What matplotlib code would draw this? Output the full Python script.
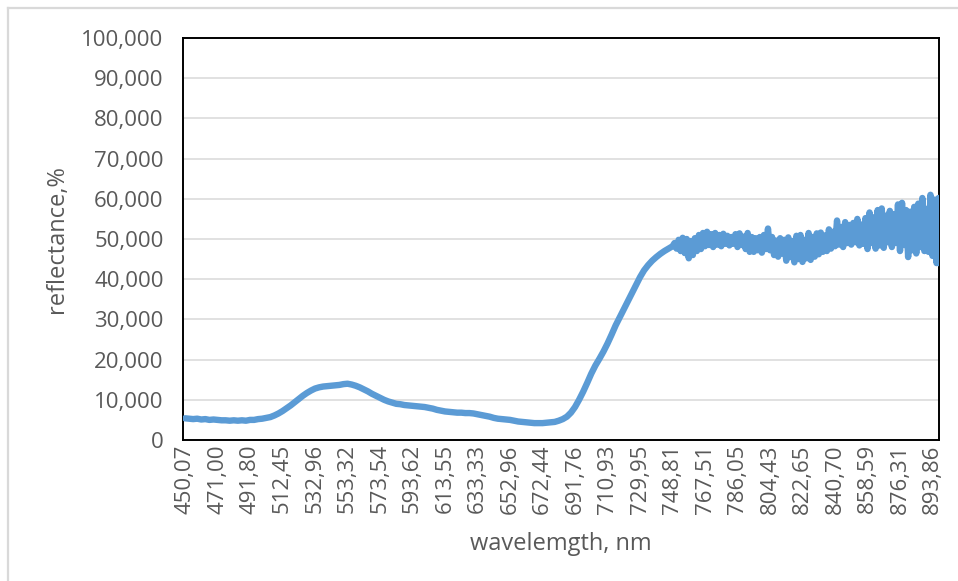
import matplotlib
matplotlib.use("Agg")
import matplotlib.pyplot as plt
from matplotlib.lines import Line2D
import numpy as np

plt.rcParams['font.family'] = ['Open Sans', 'DejaVu Sans']

# Category tick labels (wavelength, nm) shown every 8th sample
tick_labels = ["450,07", "471,00", "491,80", "512,45", "532,96", "553,32",
               "573,54", "593,62", "613,55", "633,33", "652,96", "672,44",
               "691,76", "710,93", "729,95", "748,81", "767,51", "786,05",
               "804,43", "822,65", "840,70", "858,59", "876,31", "893,86"]
samples_per_label = 8

# Reflectance (%): smooth part, one value per 1/8 label interval
reflectance_smooth = [
    5.4, 5.3, 5.2, 5.3, 5.1, 5.2, 5.0, 5.1,
    5.0, 4.9, 4.9, 4.8, 4.9, 4.8, 4.9, 4.8,
    5.0, 5.0, 5.2, 5.3, 5.5, 5.7, 6.1, 6.6,
    7.2, 7.9, 8.6, 9.4, 10.2, 11.0, 11.7, 12.3,
    12.8, 13.1, 13.3, 13.4, 13.5, 13.6, 13.7, 13.9,
    14.0, 13.8, 13.5, 13.1, 12.6, 12.1, 11.5, 11.0,
    10.5, 10.0, 9.6, 9.3, 9.0, 8.9, 8.7, 8.6,
    8.5, 8.4, 8.3, 8.2, 8.0, 7.8, 7.5, 7.3,
    7.1, 7.0, 6.9, 6.8, 6.8, 6.7, 6.7, 6.6,
    6.4, 6.2, 6.0, 5.8, 5.5, 5.3, 5.2, 5.1,
    5.0, 4.8, 4.6, 4.5, 4.4, 4.3, 4.2, 4.2,
    4.2, 4.3, 4.4, 4.5, 4.8, 5.2, 5.8, 6.8,
    8.2, 10.0, 12.0, 14.2, 16.5, 18.5, 20.2, 22.0,
    24.0, 26.2, 28.5, 30.5, 32.5, 34.5, 36.5, 38.5,
    40.5, 42.2, 43.5, 44.6, 45.5, 46.3, 47.0, 47.6,
]

# Noisy part (from 748,81 nm on), one value per 1/16 label interval
reflectance_noisy = [
    48.2, 49.0, 47.6, 49.8, 47.0, 50.3, 46.5, 50.0,
    45.2, 49.5, 46.0, 50.2, 47.0, 51.0, 47.5, 51.5,
    48.2, 51.8, 48.5, 51.2, 48.0, 51.5, 48.6, 51.0,
    48.2, 51.3, 48.8, 50.8, 48.4, 50.5, 48.8, 51.2,
    48.0, 51.4, 48.5, 50.6, 47.5, 51.5, 46.8, 50.5,
    46.8, 50.2, 47.2, 50.5, 46.6, 51.0, 47.5, 52.6,
    47.2, 50.5, 46.0, 49.6, 45.6, 50.2, 46.4, 49.8,
    44.6, 50.4, 45.5, 49.5, 44.2, 50.8, 45.0, 51.0,
    44.3, 49.8, 45.2, 51.5, 44.8, 50.5, 45.6, 51.4,
    46.2, 51.6, 46.8, 50.9, 47.0, 52.4, 47.6, 51.8,
    48.2, 54.6, 48.6, 53.0, 48.0, 54.2, 49.0, 53.5,
    48.6, 54.0, 49.2, 55.0, 48.4, 53.6, 48.8, 55.2,
    47.5, 56.6, 49.0, 55.4, 47.6, 57.2, 48.4, 57.6,
    47.8, 55.8, 49.2, 57.0, 48.0, 56.2, 49.0, 58.6,
    47.0, 59.0, 48.5, 57.2, 45.5, 56.8, 47.2, 58.0,
    46.4, 58.8, 48.0, 60.2, 47.0, 57.5, 46.8, 61.0,
    45.8, 59.8, 44.0, 60.2, 43.8,
]

y_ticks = list(range(0, 101, 10))
y_tick_labels = ["0"] + [f"{v},000" for v in y_ticks[1:]]

W, H = 958, 581
fig = plt.figure(figsize=(W / 100, H / 100), dpi=100)
fig.patch.set_facecolor("white")

L, R, T, B = 183, 939, 38, 440
ax = fig.add_axes([L / W, 1 - B / H, (R - L) / W, (B - T) / H])

n_s = len(reflectance_smooth)
x = np.concatenate([np.arange(n_s), n_s + np.arange(len(reflectance_noisy)) / 2.0])
y = np.array(reflectance_smooth + reflectance_noisy)
ax.plot(x, y, color="#5B9BD5", lw=4.6, solid_joinstyle="round",
        solid_capstyle="round", zorder=3)

ax.set_xlim(-0.5, 185.6)
ax.set_ylim(0, 100)

ax.set_yticks(y_ticks)
ax.set_yticklabels(y_tick_labels)
ax.set_xticks(np.arange(len(tick_labels)) * samples_per_label)
ax.set_xticklabels(tick_labels, rotation=90)

text_col = "#595959"
ax.tick_params(axis="y", length=0, pad=14, labelsize=16, labelcolor=text_col)
ax.tick_params(axis="x", length=0, pad=3, labelsize=16, labelcolor=text_col)

ax.yaxis.grid(True, color="#D9D9D9", lw=1.1, zorder=0)
ax.set_axisbelow(True)
for s in ax.spines.values():
    s.set_color("black")
    s.set_linewidth(1.4)

ax.set_ylabel("reflectance,%", fontsize=17, color=text_col, labelpad=9)
ax.set_xlabel("wavelemgth, nm", fontsize=17, color=text_col, labelpad=13)

# outer chart border (light gray), top and left visible
fig.add_artist(Line2D([8 / W, 8 / W], [0, 1 - 8 / H], transform=fig.transFigure,
                      color="#D9D9D9", lw=1.6))
fig.add_artist(Line2D([8 / W, 1], [1 - 8 / H, 1 - 8 / H], transform=fig.transFigure,
                      color="#D9D9D9", lw=1.6))

fig.savefig("out.png", dpi=100, facecolor="white")
